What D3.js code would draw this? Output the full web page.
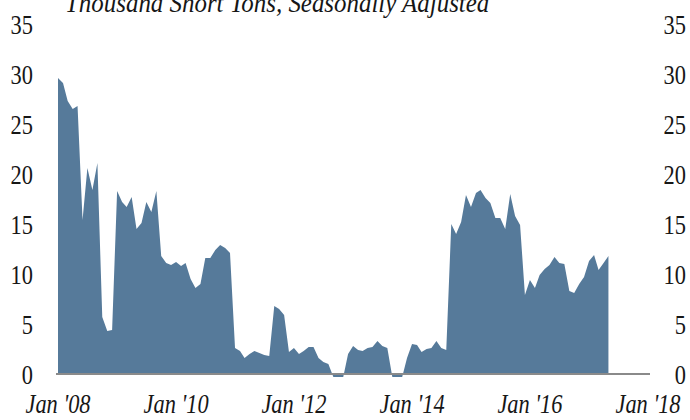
<!DOCTYPE html>
<html>
<head>
<meta charset="utf-8">
<script src="https://cdn.jsdelivr.net/npm/d3@7"></script>
<style>
  html, body { margin: 0; padding: 0; background: #ffffff; }
  svg { display: block; }
</style>
</head>
<body>
<script>
// Monthly series, Jan 2008 onward (thousand short tons, seasonally adjusted)
const startYear = 2008;
const values = [
  29.6, 29.1, 27.3, 26.5, 26.8, 15.4, 20.6, 18.4, 21.1, 5.7, 4.3, 4.4,   // 2008
  18.3, 17.2, 16.7, 17.7, 14.5, 15.1, 17.2, 16.2, 18.3, 11.8, 11.1, 10.9, // 2009
  11.2, 10.8, 11.1, 9.5, 8.6, 9.0, 11.6, 11.6, 12.4, 12.9, 12.6, 12.1,   // 2010
  2.6, 2.3, 1.6, 2.0, 2.3, 2.1, 1.9, 1.8, 6.8, 6.5, 5.9, 2.2,            // 2011
  2.6, 2.0, 2.3, 2.7, 2.7, 1.6, 1.2, 1.0, -0.3, -0.3, -0.3, 2.0,         // 2012
  2.8, 2.4, 2.3, 2.6, 2.7, 3.3, 2.8, 2.6, -0.3, -0.3, -0.3, 1.6,         // 2013
  3.0, 2.9, 2.2, 2.5, 2.6, 3.3, 2.6, 2.4, 15.0, 14.0, 15.2, 17.9,        // 2014
  16.7, 18.1, 18.4, 17.6, 17.1, 15.6, 15.6, 14.5, 18.0, 15.8, 14.9, 7.9, // 2015
  9.4, 8.6, 9.9, 10.5, 10.9, 11.7, 11.1, 11.0, 8.3, 8.1, 9.0, 9.7,       // 2016
  11.3, 11.9, 10.4, 11.1, 11.8                                           // 2017
];
const yTicks = [0, 5, 10, 15, 20, 25, 30, 35];
const xTickYears = [2008, 2010, 2012, 2014, 2016, 2018];
const xTickLabels = ["Jan '08", "Jan '10", "Jan '12", "Jan '14", "Jan '16", "Jan '18"];
const title = "Thousand Short Tons, Seasonally Adjusted";

const data = values.map((v, i) => ({ date: new Date(startYear, i, 1), value: v }));

const W = 690, H = 420;
const svg = d3.select("body").append("svg").attr("width", W).attr("height", H);

const x = d3.scaleTime()
  .domain([new Date(2008, 0, 1), new Date(2018, 0, 1)])
  .range([58, 648]);
const y = d3.scaleLinear().domain([0, 35]).range([374, 24]);

const font = "'Liberation Serif', 'Times New Roman', serif";
const textColor = "#161616";

// Filled area
const area = d3.area()
  .x(d => x(d.date))
  .y0(y(0))
  .y1(d => y(d.value));

svg.append("path")
  .datum(data)
  .attr("d", area)
  .attr("fill", "#567a9a");

// Zero baseline
svg.append("line")
  .attr("x1", 56).attr("x2", 650)
  .attr("y1", y(0)).attr("y2", y(0))
  .attr("stroke", "#8a8a8a")
  .attr("stroke-width", 2);

// Condensed serif text helper
function label(g, tx, ty, txt, anchor, italic, sx) {
  g.append("text")
    .attr("transform", `translate(${tx},${ty}) scale(${sx},1)`)
    .attr("text-anchor", anchor)
    .attr("font-family", font)
    .attr("font-size", 28)
    .attr("font-style", italic ? "italic" : "normal")
    .attr("fill", textColor)
    .text(txt);
}

// Left and right value labels
const gy = svg.append("g");
yTicks.forEach(t => {
  label(gy, 33, y(t) + 10, String(t), "end", false, 0.8);
  label(gy, 686, y(t) + 10, String(t), "end", false, 0.8);
});

// Date labels along the bottom
const gx = svg.append("g");
xTickYears.forEach((yr, i) => {
  label(gx, x(new Date(yr, 0, 1)), 413, xTickLabels[i], "middle", true, 0.8);
});

// Units title (runs off the top edge)
label(svg, 65, 12, title, "start", true, 0.89);
</script>
</body>
</html>
